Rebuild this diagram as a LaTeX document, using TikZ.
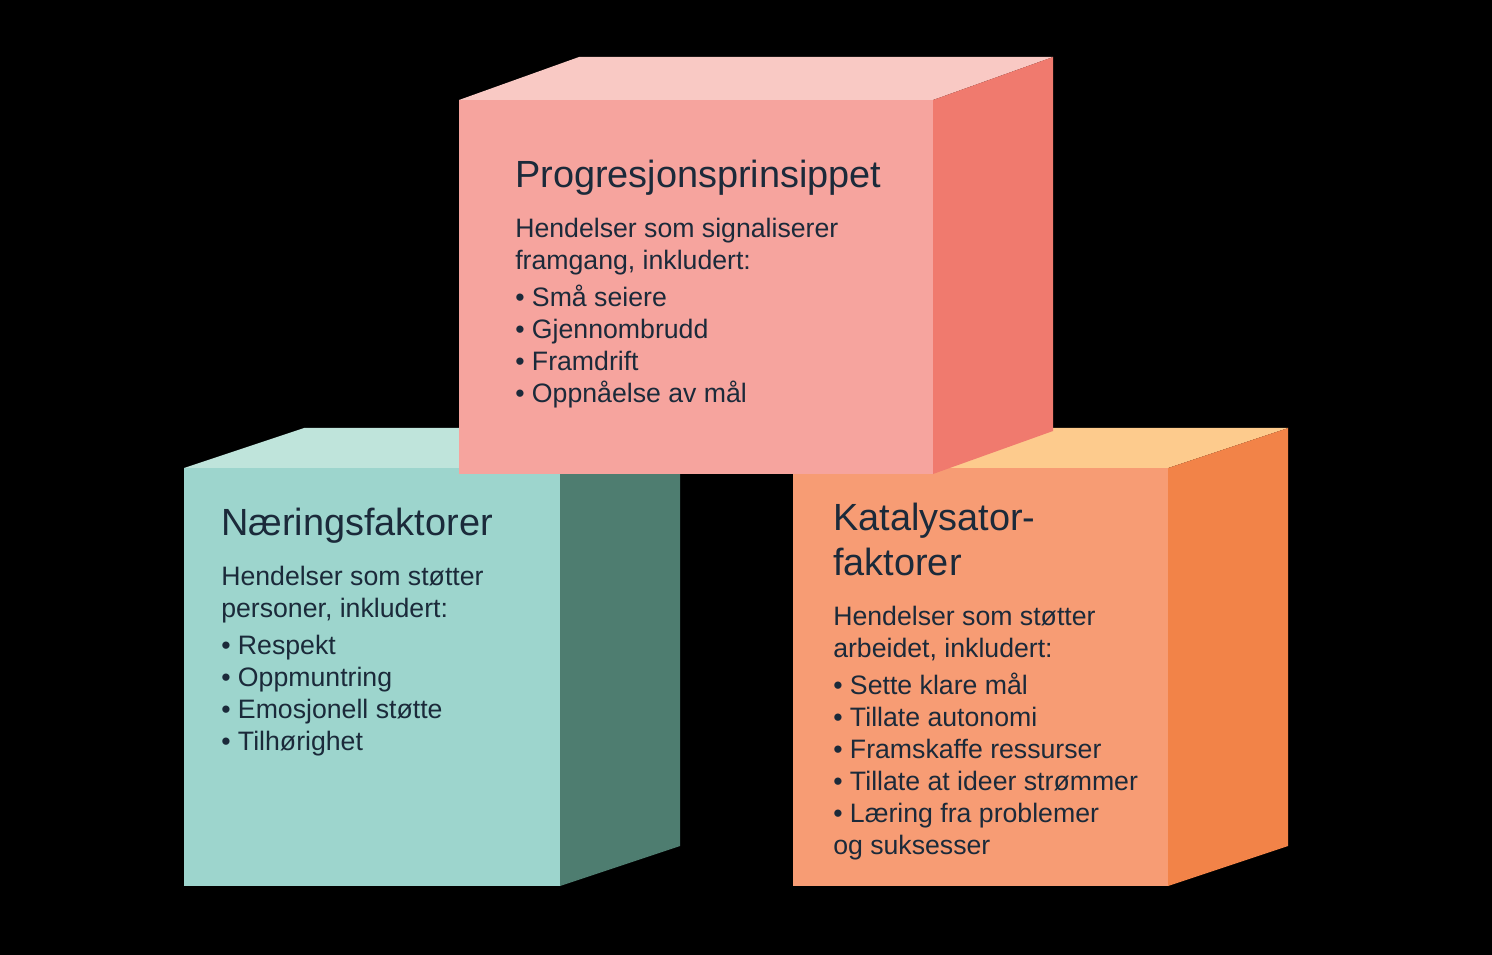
\documentclass[tikz,border=0pt]{standalone}
\usepackage{fontspec}
\setmainfont{Liberation Sans}
\definecolor{txt}{HTML}{1B2A3A}
\definecolor{pinkF}{HTML}{F6A49E}
\definecolor{pinkT}{HTML}{F9C9C4}
\definecolor{pinkR}{HTML}{F07A6E}
\definecolor{tealF}{HTML}{9DD5CD}
\definecolor{tealT}{HTML}{BFE4DB}
\definecolor{tealR}{HTML}{4E7D70}
\definecolor{orF}{HTML}{F79C74}
\definecolor{orT}{HTML}{FDCB8D}
\definecolor{orR}{HTML}{F28348}
\newcommand\titlefont{\fontsize{28.4}{34}\selectfont}
\newcommand\bodyfont{\fontsize{20}{24}\selectfont}
\begin{document}
\begin{tikzpicture}[x=0.75pt,y=-0.75pt,
  title/.style={anchor=base west,inner sep=0pt,text=txt,font=\titlefont},
  body/.style={anchor=base west,inner sep=0pt,text=txt,font=\bodyfont}]
\fill[black] (0,0) rectangle (1492,955);
\useasboundingbox (0,0) rectangle (1492,955);
% left cube
\fill[tealT] (184,468) -- (304,428) -- (680,428) -- (560,468) -- cycle;
\fill[tealR] (560,468) -- (680,428) -- (680,846) -- (560,886) -- cycle;
\fill[tealF] (184,468) rectangle (560,886);
% right cube
\fill[orT] (793,468) -- (913,428) -- (1288,428) -- (1168,468) -- cycle;
\fill[orR] (1168,468) -- (1288,428) -- (1288,846) -- (1168,886) -- cycle;
\fill[orF] (793,468) rectangle (1168,886);
% top cube
\fill[pinkT] (459,100) -- (579,57) -- (1053,57) -- (933,100) -- cycle;
\fill[pinkR] (933,100) -- (1053,57) -- (1053,431) -- (933,474) -- cycle;
\fill[pinkF] (459,100) rectangle (933,474);
% texts top
\node[title] (t1) at (515,188) {Progresjonsprinsippet};
\node[body] (b1) at (515,238) {\begin{tabular}[t]{@{}l@{}}Hendelser som signaliserer\\ framgang, inkludert:\\[3.75pt]
• Små seiere\\ • Gjennombrudd\\ • Framdrift\\ • Oppnåelse av mål\end{tabular}};
% texts left
\node[title] (t2) at (221,535) {Næringsfaktorer};
\node[body] (b2) at (221,585) {\begin{tabular}[t]{@{}l@{}}Hendelser som støtter\\ personer, inkludert:\\[3.75pt]
• Respekt\\ • Oppmuntring\\ • Emosjonell støtte\\ • Tilhørighet\end{tabular}};
% texts right
\node[title] (t3) at (833,530) {\begin{tabular}[t]{@{}l@{}}Katalysator-\\ faktorer\end{tabular}};
\node[body] (b3) at (833,625) {\begin{tabular}[t]{@{}l@{}}Hendelser som støtter\\ arbeidet, inkludert:\\[3.75pt]
• Sette klare mål\\ • Tillate autonomi\\ • Framskaffe ressurser\\ • Tillate at ideer strømmer\\ • Læring fra problemer\\ og suksesser\end{tabular}};
\end{tikzpicture}
\end{document}
